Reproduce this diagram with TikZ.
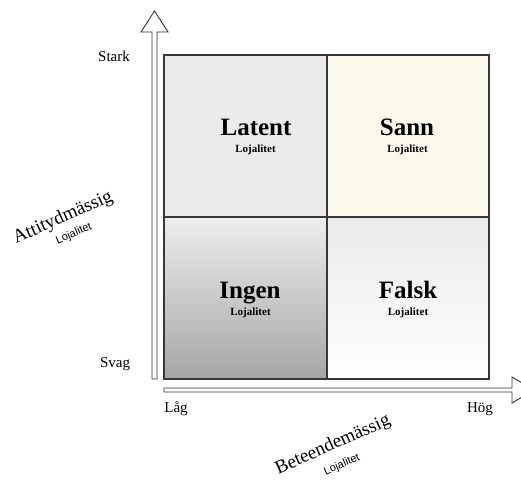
\documentclass[tikz,border=0pt]{standalone}
\usepackage{fontspec}
\setmainfont{Liberation Serif}
\setsansfont{Liberation Sans}
\begin{document}
\begin{tikzpicture}[x=1pt,y=-1pt,
  frame/.style={draw=black!78,line width=1.2pt},
  axisarrow/.style={draw=black!80,fill=white,line width=0.9pt,line join=miter},
  title/.style={anchor=base,font=\fontsize{25}{28}\selectfont\bfseries},
  sub/.style={anchor=base,font=\fontsize{11}{13}\selectfont\bfseries},
  tick/.style={anchor=base,font=\fontsize{15}{17}\selectfont},
  axislabel/.style={inner sep=0pt,rotate=24,font=\fontsize{19}{21}\selectfont},
  axissub/.style={inner sep=0pt,rotate=24,font=\sffamily\fontsize{11}{13}\selectfont}]
\useasboundingbox (0,0) rectangle (521,486);
\clip (0,0) rectangle (521,486);
\fill[white] (0,0) rectangle (521,486);

% quadrant fills
\fill[black!8] (164,55) rectangle (327,217);
\fill[fill={rgb,255:red,251;green,249;blue,236}] (327,55) rectangle (489,217);
\shade[top color=black!7, bottom color=black!35] (164,217) rectangle (327,379);
\shade[top color=black!8, bottom color=white] (327,217) rectangle (489,379);

% grid lines
\draw[frame] (164,55) rectangle (489,379);
\draw[frame] (327,55) -- (327,379);
\draw[frame] (164,217) -- (489,217);

% axis arrows (outlined)
\draw[axisarrow] (152,379) -- (152,32) -- (141,32) -- (154.5,11) -- (168,32)
  -- (157,32) -- (157,379) -- cycle;
\draw[axisarrow] (164,388) -- (512,388) -- (512,377) -- (534,390) -- (512,403)
  -- (512,392) -- (164,392) -- cycle;

% quadrant labels
\node[title] (latent) at (256,136) {Latent};
\node[sub]   (latentsub) at (255.5,153) {Lojalitet};
\node[title] (sann) at (407,136) {Sann};
\node[sub]   (sannsub) at (407.5,153) {Lojalitet};
\node[title] (ingen) at (250,298) {Ingen};
\node[sub]   (ingensub) at (250.5,315) {Lojalitet};
\node[title] (falsk) at (408,298) {Falsk};
\node[sub]   (falsksub) at (408,315) {Lojalitet};

% axis ticks
\node[tick] (stark) at (114,62) {Stark};
\node[tick] (svag) at (115,367) {Svag};
\node[tick] (lag) at (176,412) {Låg};
\node[tick] (hog) at (480,412) {Hög};

% axis titles
\node[axislabel] (attityd) at (63,218) {Attitydmässig};
\node[axissub] (attitydsub) at (74,234) {Lojalitet};
\node[axislabel] (beteende) at (333,445) {Beteendemässig};
\node[axissub] (beteendesub) at (342,465) {Lojalitet};
\end{tikzpicture}
\end{document}
